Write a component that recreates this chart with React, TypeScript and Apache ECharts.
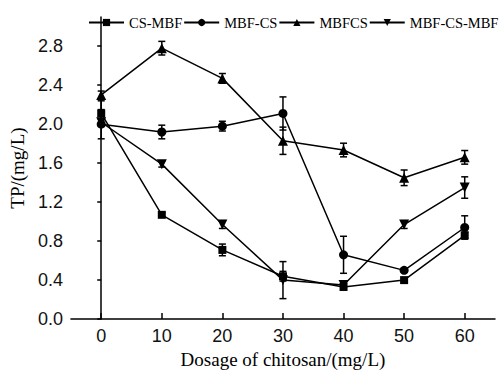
import React, { useEffect, useRef } from "react";
import * as echarts from "echarts";

const dosage = [0, 10, 20, 30, 40, 50, 60];
const yTicks = [0, 0.4, 0.8, 1.2, 1.6, 2.0, 2.4, 2.8];
const seriesNames = ["CS-MBF", "MBF-CS", "MBFCS", "MBF-CS-MBF"];
const csMbf = [2.11, 1.07, 0.71, 0.44, 0.33, 0.4, 0.86];
const csMbfErr = [0.13, 0.02, 0.06, 0.05, 0.03, 0.02, 0.03];
const mbfCs = [2.0, 1.92, 1.98, 2.11, 0.66, 0.5, 0.94];
const mbfCsErr = [0.15, 0.07, 0.05, 0.17, 0.19, 0.02, 0.12];
const mbfcs = [2.3, 2.78, 2.47, 1.83, 1.735, 1.45, 1.66];
const mbfcsErr = [0.04, 0.07, 0.05, 0.14, 0.07, 0.08, 0.07];
const mbfCsMbf = [2.02, 1.59, 0.97, 0.4, 0.35, 0.97, 1.35];
const mbfCsMbfErr = [0.03, 0.03, 0.04, 0.19, 0.03, 0.04, 0.11];

const values = [csMbf, mbfCs, mbfcs, mbfCsMbf];
const errors = [csMbfErr, mbfCsErr, mbfcsErr, mbfCsMbfErr];
const symbols = ["rect", "circle", "triangle", "triangle"];
const symbolSizes = [8, 9, 10, 10];
const symbolRotates = [0, 0, 0, 180];

export default function App() {
  const ref = useRef<HTMLDivElement>(null);
  useEffect(() => {
    if (!ref.current) return;
    const chart = echarts.init(ref.current, null, { renderer: "svg" });
    const lineSeries = values.map((vals, i) => ({
      name: seriesNames[i],
      type: "line",
      data: vals.map((v, j) => [dosage[j], v]),
      symbol: symbols[i],
      symbolSize: symbolSizes[i],
      symbolRotate: symbolRotates[i],
      lineStyle: { color: "#000", width: 1.5 },
      itemStyle: { color: "#000" },
      z: 3,
    }));
    const errSeries = values.map((vals, i) => ({
      name: seriesNames[i] + "-err",
      type: "custom",
      data: vals.map((v, j) => [dosage[j], v - errors[i][j], v + errors[i][j]]),
      renderItem: (params: any, api: any) => {
        const x = api.value(0);
        const lo = api.coord([x, api.value(1)]);
        const hi = api.coord([x, api.value(2)]);
        const cw = 3.5;
        const style = { stroke: "#000", lineWidth: 1.5 };
        return {
          type: "group",
          children: [
            { type: "line", shape: { x1: lo[0], y1: lo[1], x2: hi[0], y2: hi[1] }, style },
            { type: "line", shape: { x1: lo[0] - cw, y1: lo[1], x2: lo[0] + cw, y2: lo[1] }, style },
            { type: "line", shape: { x1: hi[0] - cw, y1: hi[1], x2: hi[0] + cw, y2: hi[1] }, style },
          ],
        };
      },
      z: 2,
    }));
    chart.setOption({
      animation: false,
      backgroundColor: "#fff",
      grid: { left: 69, right: 8, top: 17, bottom: 49 },
      legend: {
        data: seriesNames,
        left: 88,
        top: 15,
        padding: 0,
        width: 415,
        itemWidth: 35,
        itemHeight: 9,
        itemGap: 1,
        textStyle: { fontFamily: "Liberation Serif", fontSize: 14.5, color: "#000" },
      },
      xAxis: {
        type: "value",
        min: -5,
        max: 65,
        name: "Dosage of chitosan/(mg/L)",
        nameLocation: "middle",
        nameGap: 29,
        nameTextStyle: { fontFamily: "Liberation Serif", fontSize: 19, color: "#000" },
        axisLine: { lineStyle: { color: "#000", width: 1.5 } },
        axisTick: { customValues: dosage, inside: true, length: 6, lineStyle: { color: "#000", width: 1.5 } },
        axisLabel: { customValues: dosage, fontFamily: "Liberation Sans", fontSize: 18, color: "#111", margin: 8 },
        splitLine: { show: false },
      },
      yAxis: {
        type: "value",
        min: 0,
        max: 3.1,
        name: "TP/(mg/L)",
        nameLocation: "middle",
        nameGap: 42,
        nameTextStyle: { fontFamily: "Liberation Serif", fontSize: 19, color: "#000" },
        axisLine: { show: true, lineStyle: { color: "#000", width: 1.5 } },
        axisTick: { show: true, customValues: yTicks, length: 4, lineStyle: { color: "#000", width: 1.5 } },
        axisLabel: {
          customValues: yTicks,
          formatter: (v: number) => v.toFixed(1),
          fontFamily: "Liberation Sans",
          fontSize: 18,
          color: "#111",
          margin: 8,
        },
        splitLine: { show: false },
      },
      series: [...errSeries, ...lineSeries],
    });
    return () => chart.dispose();
  }, []);
  return <div ref={ref} style={{ width: 503, height: 374, position: "absolute", left: 0, top: 0 }} />;
}
